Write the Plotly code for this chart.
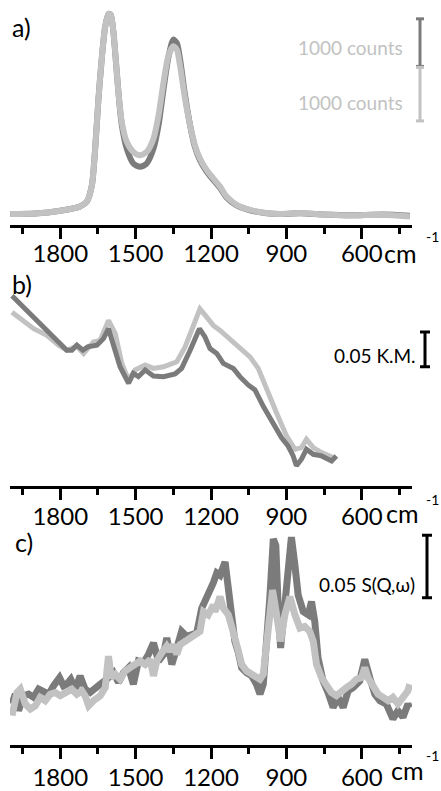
import plotly.graph_objects as go

W, H = 441, 791
DARK = "#7b7b7b"
LIGHT = "#c2c2c2"
FONT = "Lato"

# ---------------- data ----------------
# panel a) Raman, counts
A_WN = [1999, 1900, 1800, 1721, 1694, 1674, 1661, 1648, 1634, 1621,
        1608, 1599, 1588, 1577, 1566, 1555, 1535, 1509, 1482, 1456,
        1429, 1409, 1389, 1370, 1350, 1336, 1323, 1303, 1283, 1264,
        1244, 1217, 1191, 1164, 1138, 1098, 1045, 979, 926, 846,
        750, 648, 515, 409]
A_LIGHT = [229, 240, 300, 389, 493, 840, 1604, 2646, 3548, 4174,
           4437, 4416, 4035, 3340, 2646, 2160, 1743, 1535, 1465, 1535,
           1812, 2299, 2993, 3548, 3757, 3687, 3340, 2646, 2090, 1674,
           1396, 1153, 979, 806, 597, 424, 319, 250, 229, 250,
           220, 201, 215, 180]
A_DARK = [229, 240, 300, 389, 493, 840, 1604, 2646, 3548, 4174,
          4437, 4416, 4035, 3340, 2646, 2100, 1600, 1292, 1222, 1292,
          1604, 2090, 2854, 3514, 3896, 3826, 3479, 2715, 2090, 1640,
          1360, 1120, 950, 780, 580, 410, 310, 245, 229, 245,
          220, 205, 220, 195]

# panel b) DRIFT, K.M.
B_WN_DARK = [1992, 1959, 1906, 1853, 1807, 1774, 1754, 1734, 1710, 1691,
             1654, 1628, 1608, 1588, 1562, 1528, 1509, 1489, 1462, 1429,
             1389, 1343, 1317, 1283, 1246, 1224, 1204, 1177, 1151, 1111,
             1085, 1052, 1025, 992, 952, 919, 893, 873, 860, 840,
             820, 793, 760, 720, 701]
B_DARK = [0.2738, 0.2619, 0.2429, 0.2262, 0.2071, 0.1952, 0.1952, 0.2024, 0.1952, 0.2000,
          0.2024, 0.2119, 0.2262, 0.2048, 0.1714, 0.1476, 0.1619, 0.1571, 0.1667, 0.1581,
          0.1571, 0.1610, 0.1690, 0.1952, 0.2262, 0.2143, 0.1976, 0.1905, 0.1762, 0.1690,
          0.1571, 0.1452, 0.1381, 0.1143, 0.0905, 0.0690, 0.0571, 0.0429, 0.0286, 0.0381,
          0.0524, 0.0452, 0.0429, 0.0357, 0.0429]
B_WN_LIGHT = [1992, 1959, 1906, 1853, 1807, 1774, 1734, 1707, 1668, 1641,
              1608, 1581, 1555, 1528, 1502, 1462, 1429, 1389, 1336, 1303,
              1270, 1244, 1217, 1191, 1164, 1125, 1085, 1045, 1012, 979,
              939, 899, 866, 840, 820, 793, 760, 714]
B_LIGHT = [0.2500, 0.2405, 0.2262, 0.2167, 0.2024, 0.1952, 0.2010, 0.1905, 0.2071, 0.2095,
           0.2381, 0.2190, 0.1762, 0.1524, 0.1667, 0.1738, 0.1690, 0.1714, 0.1786, 0.2000,
           0.2333, 0.2548, 0.2429, 0.2310, 0.2238, 0.2119, 0.2000, 0.1857, 0.1690, 0.1381,
           0.1048, 0.0714, 0.0524, 0.0548, 0.0667, 0.0548, 0.0476, 0.0405]

# panel c) INS, S(Q,w)
C_WN_DARK = [1992, 1979, 1966, 1946, 1926, 1906, 1886, 1866, 1846, 1827,
             1803, 1787, 1774, 1758, 1740, 1721, 1701, 1681, 1661, 1641,
             1615, 1588, 1568, 1548, 1528, 1509, 1489, 1469, 1449, 1429,
             1409, 1389, 1376, 1356, 1336, 1317, 1297, 1277, 1257, 1237,
             1217, 1191, 1177, 1164, 1144, 1131, 1118, 1105, 1091, 1078,
             1058, 1038, 1019, 1005, 992, 979, 966, 952, 942, 933,
             923, 910, 893, 880, 866, 853, 833, 813, 800, 787,
             774, 754, 734, 714, 694, 674, 654, 634, 608, 588,
             568, 548, 528, 502, 476, 456, 436, 416, 409]
C_DARK = [0.0331, 0.0410, 0.0278, 0.0397, 0.0410, 0.0384, 0.0450, 0.0423, 0.0410, 0.0476,
          0.0542, 0.0476, 0.0489, 0.0529, 0.0450, 0.0556, 0.0450, 0.0423, 0.0450, 0.0489,
          0.0529, 0.0582, 0.0503, 0.0582, 0.0622, 0.0489, 0.0675, 0.0661, 0.0728, 0.0820,
          0.0675, 0.0728, 0.0860, 0.0648, 0.0780, 0.0913, 0.0873, 0.0886, 0.0899, 0.1098,
          0.1177, 0.1300, 0.1380, 0.1362, 0.1468, 0.1283, 0.1045, 0.0833, 0.0741, 0.0622,
          0.0582, 0.0556, 0.0489, 0.0410, 0.0489, 0.0780, 0.1177, 0.1653, 0.1601, 0.1124,
          0.0780, 0.1045, 0.1389, 0.1667, 0.1442, 0.1204, 0.1071, 0.1045, 0.1151, 0.0992,
          0.0701, 0.0516, 0.0423, 0.0304, 0.0384, 0.0304, 0.0437, 0.0463, 0.0516, 0.0688,
          0.0542, 0.0410, 0.0357, 0.0331, 0.0212, 0.0278, 0.0225, 0.0331, 0.0300]
C_WN_LIGHT = [1992, 1972, 1959, 1939, 1919, 1899, 1880, 1860, 1840, 1820,
              1800, 1780, 1754, 1734, 1714, 1701, 1687, 1668, 1641, 1621,
              1608, 1597, 1581, 1562, 1542, 1522, 1502, 1482, 1462, 1442,
              1429, 1416, 1396, 1376, 1363, 1350, 1336, 1323, 1303, 1283,
              1264, 1244, 1230, 1211, 1191, 1184, 1164, 1151, 1131, 1118,
              1105, 1091, 1078, 1058, 1038, 1019, 1005, 992, 979, 966,
              955, 939, 923, 906, 886, 866, 846, 827, 807, 793,
              780, 760, 740, 721, 701, 681, 661, 641, 621, 601,
              588, 575, 555, 535, 515, 495, 476, 456, 436, 416, 409]
C_LIGHT = [0.0238, 0.0423, 0.0450, 0.0331, 0.0291, 0.0317, 0.0384, 0.0357, 0.0410, 0.0423,
           0.0397, 0.0423, 0.0450, 0.0410, 0.0437, 0.0397, 0.0317, 0.0357, 0.0397, 0.0463,
           0.0714, 0.0542, 0.0569, 0.0529, 0.0595, 0.0622, 0.0648, 0.0675, 0.0648, 0.0688,
           0.0556, 0.0675, 0.0741, 0.0794, 0.0754, 0.0807, 0.0728, 0.0807, 0.0833, 0.0860,
           0.0873, 0.0913, 0.1071, 0.1045, 0.1124, 0.1071, 0.1190, 0.1098, 0.1045, 0.0966,
           0.0860, 0.0754, 0.0648, 0.0595, 0.0569, 0.0542, 0.0529, 0.0569, 0.0807, 0.1124,
           0.1243, 0.1045, 0.0833, 0.1045, 0.1190, 0.1045, 0.0939, 0.0952, 0.0913, 0.0833,
           0.0648, 0.0542, 0.0489, 0.0423, 0.0397, 0.0437, 0.0463, 0.0489, 0.0529, 0.0542,
           0.0622, 0.0542, 0.0463, 0.0410, 0.0384, 0.0357, 0.0384, 0.0331, 0.0384, 0.0437, 0.0489]

MAJOR_TICKS = [1800, 1500, 1200, 900, 600]
MAJOR_LABELS = ["1800", "1500", "1200", "900", "600"]
MINOR_TICKS = [1950, 1650, 1350, 1050, 750, 450]
X_RANGE = [2000, 400]

SCALE_COUNTS = "1000 counts"
SCALE_B = 0.05
SCALE_C = 0.05


def px(p):
    return p / W


def py(p):
    return 1 - p / H


fig = go.Figure()


def add(x, y, color, ax, shape="linear", width=6):
    fig.add_trace(go.Scatter(x=x, y=y, mode="lines",
                             line=dict(color=color, width=width, shape=shape, smoothing=0.7),
                             xaxis="x" + ax, yaxis="y" + ax,
                             showlegend=False, hoverinfo="skip"))


add(A_WN, A_DARK, DARK, "", "spline", 6)
add(A_WN, A_LIGHT, LIGHT, "", "spline", 6)
add(B_WN_LIGHT, B_LIGHT, LIGHT, "2", "linear", 5)
add(B_WN_DARK, B_DARK, DARK, "2", "linear", 5)
add(C_WN_DARK, C_DARK, DARK, "3", "linear", 7)
add(C_WN_LIGHT, C_LIGHT, LIGHT, "3", "linear", 7)

xdom = [px(10), px(412)]
TICK_SIZE = 24


def xaxis(anchor, standoff):
    return dict(domain=xdom, anchor=anchor, range=X_RANGE,
                showline=True, linecolor="black", linewidth=3,
                ticks="outside", ticklen=11, tickwidth=3, tickcolor="black",
                tickvals=MAJOR_TICKS, ticktext=MAJOR_LABELS,
                tickfont=dict(family=FONT, size=TICK_SIZE, color="black"),
                ticklabelstandoff=standoff,
                minor=dict(tickvals=MINOR_TICKS, ticks="outside", ticklen=6,
                           tickwidth=3, tickcolor="black"),
                showgrid=False, zeroline=False)


def yaxis(anchor, dom, rng):
    return dict(domain=dom, anchor=anchor, range=rng, visible=False,
                showgrid=False, zeroline=False)


fig.update_layout(
    width=W, height=H, margin=dict(l=0, r=0, t=0, b=0),
    paper_bgcolor="white", plot_bgcolor="white",
    xaxis=xaxis("y", -6),
    xaxis2=xaxis("y2", -3),
    xaxis3=xaxis("y3", -2),
    yaxis=yaxis("x", [py(227), py(5)], [0, 4625]),
    yaxis2=yaxis("x2", [py(490), py(290)], [0, 200 / 700]),
    yaxis3=yaxis("x3", [py(752), py(530)], [0, 222 / 1260]),
)

shapes = []


def vbar(x, y0, y1, color, yref="paper", cap=5):
    shapes.append(dict(type="line", xref="paper", yref=yref, x0=px(x), x1=px(x), y0=y0, y1=y1,
                       line=dict(color=color, width=3)))
    for yy in (y0, y1):
        shapes.append(dict(type="line", xref="paper", yref=yref, x0=px(x - cap), x1=px(x + cap),
                           y0=yy, y1=yy, line=dict(color=color, width=3)))


# scale bars
vbar(420, py(19), py(67), DARK, cap=4)
vbar(420, py(68), py(122), LIGHT, cap=4)
b0 = (490 - 370) / 700
vbar(425, b0, b0 + SCALE_B, "black", yref="y2")
c0 = (752 - 603) / 1260
vbar(427, c0, c0 + SCALE_C, "black", yref="y3")

ann = []


def text(x, y, s, size, color="black", xanchor="center", yanchor="middle"):
    ann.append(dict(x=px(x), y=py(y), xref="paper", yref="paper", text=s, showarrow=False,
                    xanchor=xanchor, yanchor=yanchor,
                    font=dict(family=FONT, size=size, color=color)))


text(405, 48, SCALE_COUNTS, 19, LIGHT, xanchor="right")
text(405, 103, SCALE_COUNTS, 19, LIGHT, xanchor="right")
text(418, 359, "0.05 K.M.", 19, xanchor="right")
text(417, 590, "0.05 S(Q,\u03c9)", 19, xanchor="right")

text(10, 27, "a)", 25, xanchor="left")
text(10, 287, "b)", 25, xanchor="left")
text(13, 547, "c)", 25, xanchor="left")

# units
text(382, 255, "cm", 25, xanchor="left")
text(441, 239, "-1", 14, xanchor="right")
text(384, 518, "cm", 25, xanchor="left")
text(441, 504, "-1", 14, xanchor="right")
text(389, 777, "cm", 25, xanchor="left")
text(441, 762, "-1", 14, xanchor="right")

fig.update_layout(shapes=shapes, annotations=ann)
fig.write_html("out.html")
